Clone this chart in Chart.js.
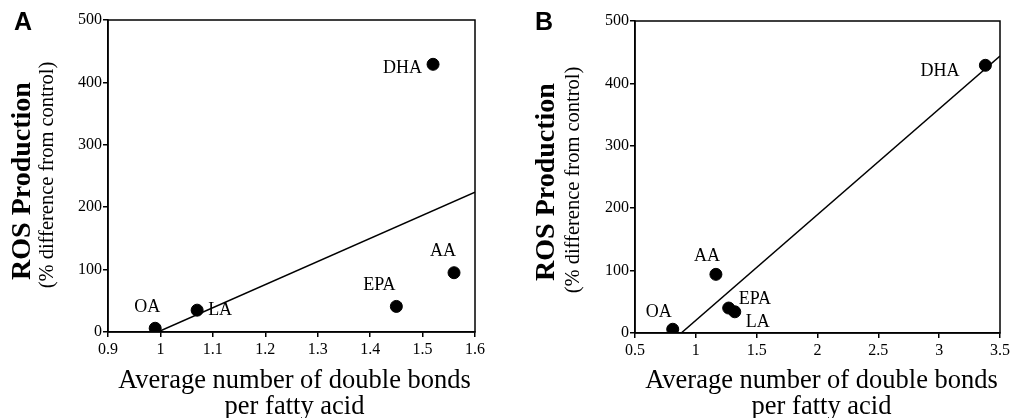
<!DOCTYPE html>
<html><head><meta charset="utf-8">
<script src="https://cdn.jsdelivr.net/npm/chart.js@4.4.1/dist/chart.umd.min.js"></script>
<style>
html,body{margin:0;padding:0;background:#fff;}
#wrap{position:relative;width:1013px;height:418px;}
.box{position:absolute;top:0;height:418px;}
#boxA{left:0;width:500px;}
#boxB{left:500px;width:513px;}
</style></head><body>
<div id="wrap">
<div class="box" id="boxA"><canvas id="cA"></canvas></div>
<div class="box" id="boxB"><canvas id="cB"></canvas></div>
</div>
<script>
// Panel A data
const namesA = ["OA","LA","EPA","AA","DHA"];
const xA = [0.99, 1.07, 1.45, 1.56, 1.52];
const yA = [6, 35, 41, 95, 429];
const fitXA = [0.995, 1.6];
const fitYA = [0, 224];
const xTicksA = [0.9, 1.0, 1.1, 1.2, 1.3, 1.4, 1.5, 1.6];
// Panel B data
const namesB = ["OA","AA","EPA","LA","DHA"];
const xB = [0.81, 1.165, 1.27, 1.32, 3.38];
const yB = [6, 94, 40, 34, 429];
const fitXB = [0.88, 3.5];
const fitYB = [0, 444];
const xTicksB = [0.5, 1.0, 1.5, 2.0, 2.5, 3.0, 3.5];
const yTicks = [0, 100, 200, 300, 400, 500];

const SERIF = '"Liberation Serif","Times New Roman",serif';

// label offsets (style only)
const offA = {OA:[-8,-21,'center'], LA:[11,0,'left'], EPA:[-17,-21,'center'], AA:[-11,-21,'center'], DHA:[-11,4,'right']};
const offB = {OA:[-14,-17,'center'], AA:[-9,-18,'center'], EPA:[10,-9,'left'], LA:[11,10,'left'], DHA:[-26,6,'right']};

function makeChart(id, letter, names, xs, ys, fx, fy, xt, opts){
  const pts = xs.map((x,i)=>({x:x, y:ys[i]}));
  const line = fx.map((x,i)=>({x:x, y:fy[i]}));
  const deco = {
    id:'deco',
    afterDraw(chart){
      const ctx = chart.ctx, a = chart.chartArea;
      const sx = chart.scales.x, sy = chart.scales.y;
      ctx.save();
      ctx.strokeStyle = '#000'; ctx.lineWidth = 1.5;
      ctx.strokeRect(a.left, a.top, a.right-a.left, a.bottom-a.top);
      ctx.fillStyle = '#000';
      // point labels
      ctx.font = '18px ' + SERIF;
      ctx.textBaseline = 'middle';
      names.forEach((n,i)=>{
        const o = opts.off[n];
        ctx.textAlign = o[2];
        ctx.fillText(n, sx.getPixelForValue(xs[i]) + o[0], sy.getPixelForValue(ys[i]) + o[1]);
      });
      // panel letter
      ctx.font = 'bold 25px "Liberation Sans",Arial,sans-serif';
      ctx.textAlign = 'center';
      ctx.fillText(letter, opts.letterX, 23);
      // x title
      const cx = (a.left + a.right)/2 + opts.xTitleShift;
      ctx.font = '26.5px ' + SERIF;
      ctx.textBaseline = 'alphabetic';
      ctx.fillText('Average number of double bonds', cx, 388);
      ctx.fillText('per fatty acid', cx, 414);
      // y title
      ctx.textBaseline = 'middle';
      ctx.save();
      ctx.translate(opts.yTitleX, opts.yc1);
      ctx.rotate(-Math.PI/2);
      ctx.font = 'bold 28px ' + SERIF;
      ctx.fillText('ROS Production', 0, 0);
      ctx.restore();
      ctx.save();
      ctx.translate(opts.yTitleX + opts.subOff, opts.yc2);
      ctx.rotate(-Math.PI/2);
      ctx.font = '20.5px ' + SERIF;
      ctx.fillText('(% difference from control)', 0, 0);
      ctx.restore();
      ctx.restore();
    }
  };
  return new Chart(document.getElementById(id), {
    type:'scatter',
    data:{datasets:[
      {data:pts, backgroundColor:'#000', borderColor:'#000', pointRadius:6, pointHoverRadius:6, showLine:false},
      {data:line, borderColor:'#000', borderWidth:1.5, pointRadius:0, showLine:true, fill:false}
    ]},
    options:{
      responsive:true, maintainAspectRatio:false, animation:false,
      layout:{padding:{left:0, right:opts.padRight, top:opts.padTop, bottom:0}},
      plugins:{legend:{display:false}, tooltip:{enabled:false}},
      scales:{
        x:{type:'linear', min:xt[0], max:xt[xt.length-1],
          afterBuildTicks(s){ s.ticks = xt.map(v=>({value:v})); },
          afterFit(s){ s.height = 418 - opts.bottom; },
          grid:{display:true, drawOnChartArea:false, drawTicks:true, tickLength:5, color:'#000', lineWidth:1.5},
          border:{display:true, color:'#000', width:1.5},
          ticks:{color:'#000', font:{family:SERIF, size:16}, padding:3, maxRotation:0, autoSkip:false,
            callback:v=>String(+(+v).toFixed(2))}
        },
        y:{type:'linear', min:0, max:500,
          afterBuildTicks(s){ s.ticks = yTicks.map(v=>({value:v})); },
          afterFit(s){ s.width = opts.left; },
          grid:{display:true, drawOnChartArea:false, drawTicks:true, tickLength:5, color:'#000', lineWidth:1.5},
          border:{display:true, color:'#000', width:1.5},
          ticks:{color:'#000', font:{family:SERIF, size:16}, padding:1}
        }
      }
    },
    plugins:[deco]
  });
}
makeChart('cA','A',namesA,xA,yA,fitXA,fitYA,xTicksA,{off:offA,left:108,padRight:25,padTop:20,bottom:332,letterX:23,yTitleX:23,subOff:25,yc1:181,yc2:175,xTitleShift:3});
makeChart('cB','B',namesB,xB,yB,fitXB,fitYB,xTicksB,{off:offB,left:135,padRight:11,padTop:21,bottom:333,letterX:44,yTitleX:47,subOff:27,yc1:182,yc2:180,xTitleShift:4});
</script>
</body></html>
